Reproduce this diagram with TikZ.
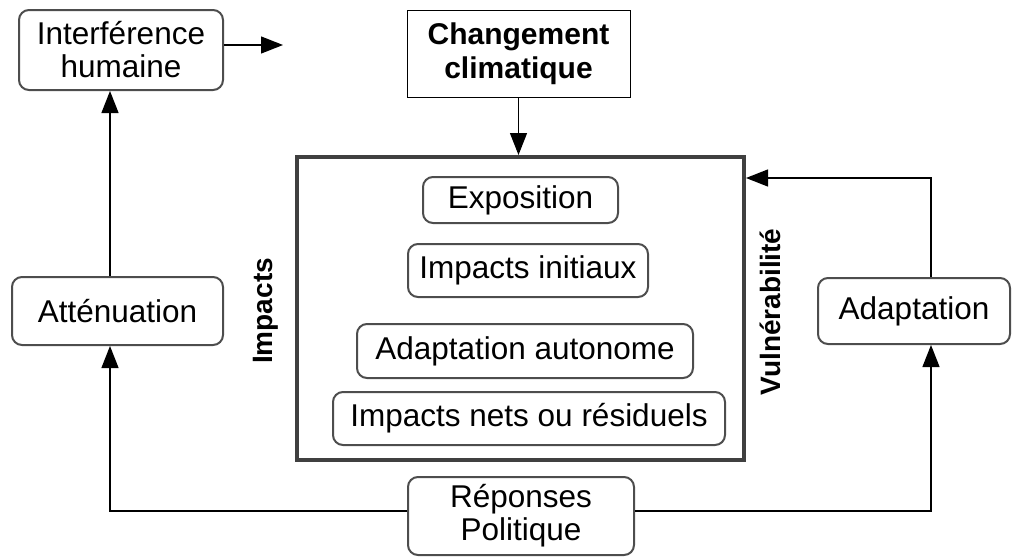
\documentclass[tikz,border=0pt]{standalone}
\usepackage{fontspec}
\setmainfont{Liberation Sans}
\usetikzlibrary{arrows.meta}
\definecolor{boxgray}{HTML}{4D4D4D}
\definecolor{framegray}{HTML}{404040}
\begin{document}
\begin{tikzpicture}[x=1pt,y=-1pt,
  rbox/.style={draw=boxgray, line width=2pt, rounded corners=10pt, align=center,
    font=\fontsize{31.5}{33}\selectfont, inner sep=0pt, fill=white},
  sqbox/.style={draw=black, line width=1pt, align=center,
    font=\fontsize{30}{34}\selectfont\bfseries, inner sep=0pt},
  frame/.style={draw=framegray, line width=4pt, inner sep=0pt},
  vlabel/.style={rotate=90, font=\fontsize{28}{30}\selectfont\bfseries, inner sep=0pt},
  conn/.style={draw=black, line width=1.3pt, -{Triangle[length=22pt,width=17pt]}},
]
\useasboundingbox (0,0) rectangle (1012,557);

\node[rbox, minimum width=204pt, minimum height=80pt] (interf) at (121,50) {Interférence\\humaine};
\node[sqbox, minimum width=223pt, minimum height=87pt] (chg) at (518.5,53.5) {Changement\\climatique};
\node[frame, minimum width=447pt, minimum height=303pt] (fr) at (520.5,308.5) {};
\node[rbox, minimum width=195pt, minimum height=46pt] (expo) at (520.5,200) {Exposition};
\node[rbox, minimum width=240pt, minimum height=53pt] (init) at (528,270.5) {Impacts initiaux};
\node[rbox, minimum width=336pt, minimum height=54pt] (auto) at (525,351) {Adaptation autonome};
\node[rbox, minimum width=392pt, minimum height=53pt] (nets) at (529,418.5) {Impacts nets ou résiduels};
\node[rbox, minimum width=211pt, minimum height=68pt] (att) at (117.5,311) {Atténuation};
\node[rbox, minimum width=192pt, minimum height=66pt] (adapt) at (914,311) {Adaptation};
\node[rbox, minimum width=226pt, minimum height=78pt] (rep) at (521,516) {Réponses\\Politique};
\node[vlabel] (imp) at (266,311) {Impacts};
\node[vlabel] (vul) at (770,312) {Vulnérabilité};

\coordinate (ie) at (283,45);
\coordinate (lx) at (110,511);
\coordinate (rx) at (931,511);
\coordinate (ay) at (0,178);

\draw[conn] (interf.east |- ie) -- (ie);
\draw[conn] (chg.south) -- (chg.south |- fr.north);
\draw[conn] (att.north -| lx) -- (interf.south -| lx);
\draw[conn] (adapt.north -| rx) |- (fr.east |- ay);
\draw[conn] (rep.west |- lx) -| (att.south -| lx);
\draw[conn] (rep.east |- rx) -| (adapt.south -| rx);
\end{tikzpicture}
\end{document}
